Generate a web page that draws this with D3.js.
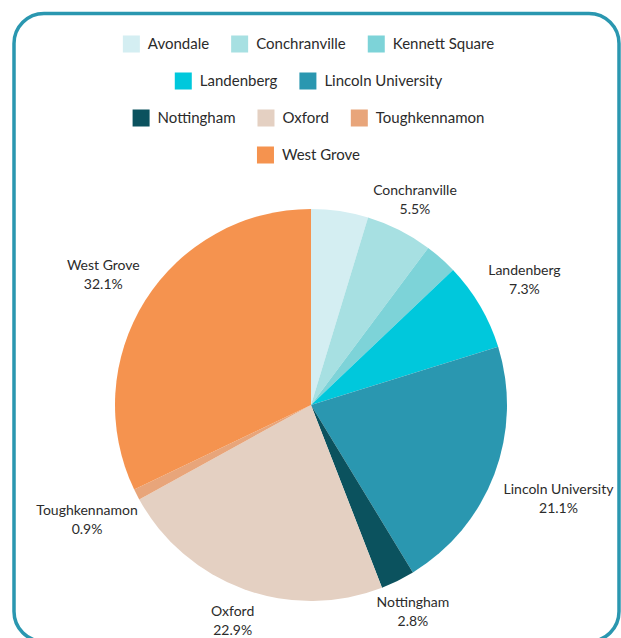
<!DOCTYPE html>
<html>
<head>
<meta charset="utf-8">
<script src="https://cdn.jsdelivr.net/npm/d3@7"></script>
<style>
  html, body { margin: 0; padding: 0; background: #fff; }
  svg { display: block; font-family: Lato, "Noto Sans", sans-serif; }
</style>
</head>
<body>
<div id="chart"></div>
<script>
// Data
const towns = ["Avondale", "Conchranville", "Kennett Square", "Landenberg", "Lincoln University",
  "Nottingham", "Oxford", "Toughkennamon", "West Grove"];
const shares = [4.7, 5.5, 2.7, 7.3, 21.1, 2.8, 22.9, 0.9, 32.1];
const colors = ["#d4eef2", "#a7e0e2", "#7dd3d8", "#00c8dc", "#2a97b0",
  "#0b525e", "#e4d0c2", "#e8a57a", "#f5934f"];
const legendRows = [[0, 1, 2], [3, 4], [5, 6, 7], [8]];
const hiddenLabels = ["Avondale", "Kennett Square"];

const W = 621, H = 638;
const cx = 311, cy = 405, r = 196;

const svg = d3.select("#chart").append("svg")
  .attr("width", W).attr("height", H);

// Card border
svg.append("rect")
  .attr("x", 14).attr("y", 13.5)
  .attr("width", 605).attr("height", 628)
  .attr("rx", 30).attr("ry", 30)
  .attr("fill", "#fff")
  .attr("stroke", "#2a97b0")
  .attr("stroke-width", 3.5);

const color = d3.scaleOrdinal().domain(towns).range(colors);

// Legend
const legend = svg.append("g");
legendRows.forEach((row, ri) => {
  const g = legend.append("g");
  let x = 0;
  row.forEach(i => {
    const item = g.append("g").attr("transform", `translate(${x},0)`);
    item.append("rect")
      .attr("x", 0).attr("y", -8.5)
      .attr("width", 17).attr("height", 17)
      .attr("fill", color(towns[i]));
    const t = item.append("text")
      .attr("x", 25).attr("y", 0)
      .attr("dy", "0.35em")
      .attr("font-size", 15)
      .attr("fill", "#2b2b2b")
      .text(towns[i]);
    x += 25 + t.node().getComputedTextLength() + 22;
  });
  const rowW = x - 22;
  g.attr("transform", `translate(${308.5 - rowW / 2},${44 + ri * 37})`);
});

// Pie
const pie = d3.pie().sort(null).value(d => d.v);
const arcs = pie(towns.map((t, i) => ({ t, v: shares[i] })));
const arc = d3.arc().innerRadius(0).outerRadius(r);

const plot = svg.append("g").attr("transform", `translate(${cx},${cy})`);
plot.selectAll("path")
  .data(arcs)
  .join("path")
  .attr("d", arc)
  .attr("fill", d => color(d.data.t));

// Labels: box pushed out along the mid angle until its edge touches radius lr
const lr = r + 12, boxH = 40;
const labels = plot.selectAll("g.lbl")
  .data(arcs.filter(d => !hiddenLabels.includes(d.data.t)))
  .join("g")
  .attr("class", "lbl");

labels.each(function(d) {
  const g = d3.select(this);
  const a = (d.startAngle + d.endAngle) / 2;
  const s = Math.sin(a), c = Math.cos(a);
  const t1 = g.append("text").attr("text-anchor", "middle").attr("dy", "0.35em")
    .attr("font-size", 14).attr("fill", "#2b2b2b").text(d.data.t);
  const t2 = g.append("text").attr("text-anchor", "middle").attr("dy", "0.35em")
    .attr("font-size", 14).attr("fill", "#2b2b2b")
    .text(d3.format(".1f")(d.data.v) + "%");
  const w = t1.node().getComputedTextLength();
  const t = Math.min(w / 2 / Math.max(Math.abs(s), 1e-6), boxH / 2 / Math.max(Math.abs(c), 1e-6));
  const px = s * (lr + t);
  const py = -c * (lr + t);
  t1.attr("x", px).attr("y", py - 9.5);
  t2.attr("x", px).attr("y", py + 9.5);
});
</script>
</body>
</html>
